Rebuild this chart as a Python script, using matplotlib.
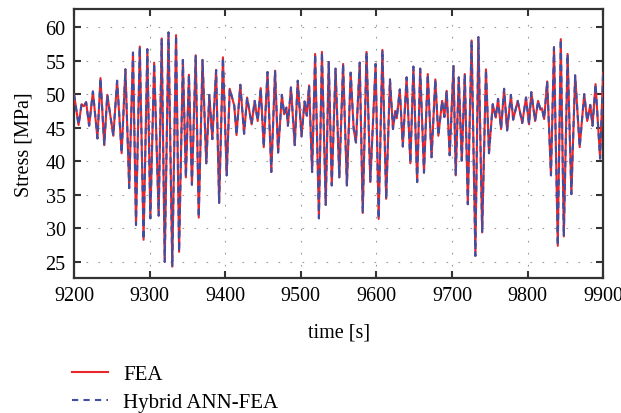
import matplotlib
matplotlib.use("Agg")
import matplotlib.pyplot as plt

# peaks and troughs
time_s = [9200, 9206, 9210, 9213, 9216, 9220, 9225, 9231, 9235, 9240,
          9244, 9252, 9257, 9263, 9268, 9273, 9278, 9282, 9287, 9292,
          9297, 9301, 9306, 9312, 9316, 9320, 9325, 9330, 9335, 9339,
          9344, 9348, 9352, 9356, 9361, 9365, 9370, 9375, 9379, 9383,
          9388, 9392, 9397, 9402, 9406, 9412, 9415, 9420, 9425, 9429,
          9435, 9439, 9443, 9447, 9451, 9456, 9461, 9466, 9470, 9475,
          9478, 9481, 9483, 9487, 9492, 9496, 9501, 9505, 9508, 9511,
          9515, 9519, 9524, 9528, 9533, 9537, 9541, 9546, 9551, 9556,
          9561, 9566, 9570, 9573, 9578, 9582, 9587, 9592, 9599, 9603,
          9608, 9613, 9618, 9622, 9625, 9627, 9631, 9635, 9640, 9645,
          9649, 9654, 9658, 9663, 9668, 9673, 9678, 9682, 9687, 9690,
          9693, 9697, 9702, 9705, 9709, 9713, 9717, 9721, 9726, 9731,
          9735, 9740, 9745, 9749, 9754, 9758, 9761, 9765, 9769, 9773,
          9778, 9781, 9787, 9793, 9798, 9802, 9805, 9810, 9814, 9817,
          9819, 9822, 9826, 9831, 9835, 9840, 9844, 9848, 9853, 9858,
          9863, 9869, 9875, 9879, 9883, 9886, 9890, 9896, 9900]

fea_stress = [50.0, 45.4, 48.5, 48.2, 48.8, 45.3, 50.4, 43.4, 52.4, 42.4,
              49.9, 43.8, 52.0, 41.2, 53.7, 36.0, 56.2, 30.5, 57.1, 28.3,
              56.7, 31.5, 54.7, 31.9, 58.3, 25.0, 59.2, 24.3, 58.8, 26.5,
              55.1, 37.6, 52.9, 36.5, 55.8, 31.6, 55.1, 39.7, 49.9, 43.3,
              53.6, 33.8, 55.5, 37.9, 50.8, 48.3, 43.9, 51.4, 44.1, 49.5,
              45.5, 49.0, 46.0, 50.9, 42.1, 53.3, 38.4, 53.5, 41.3, 49.9,
              47.0, 48.0, 45.3, 51.0, 42.4, 52.0, 43.7, 48.9, 46.8, 51.3,
              38.4, 56.0, 31.5, 56.3, 33.5, 54.8, 36.4, 53.8, 37.6, 54.5,
              36.4, 53.2, 44.8, 42.8, 54.7, 32.3, 56.3, 36.9, 54.5, 31.4,
              56.6, 34.4, 52.2, 44.8, 47.5, 46.4, 50.7, 42.2, 52.5, 39.7,
              54.1, 36.9, 53.8, 38.3, 53.0, 40.6, 52.2, 43.8, 49.0, 46.6,
              50.5, 40.9, 54.2, 37.9, 52.5, 40.1, 53.0, 33.6, 58.0, 25.9,
              58.5, 29.4, 53.7, 41.2, 48.5, 46.5, 49.3, 44.8, 50.8, 44.6,
              49.9, 46.2, 49.0, 45.7, 49.5, 45.5, 50.3, 46.0, 49.0, 47.7,
              47.9, 46.3, 51.9, 37.9, 57.0, 27.4, 58.2, 28.8, 56.0, 35.1,
              52.8, 42.1, 50.0, 46.0, 48.4, 45.3, 51.5, 40.4, 53.2]

# the hybrid curve sits on top of the FEA curve at this resolution
hybrid_stress = list(fea_stress)

x_ticks = [9200, 9300, 9400, 9500, 9600, 9700, 9800, 9900]
y_ticks = [25, 30, 35, 40, 45, 50, 55, 60]

plt.rcParams['font.family'] = ['Liberation Serif', 'DejaVu Serif']
plt.rcParams['font.size'] = 14

fig = plt.figure(figsize=(6.21, 4.14), dpi=100)
ax = fig.add_axes([0.1192, 0.326, 0.852, 0.650])

ax.plot(time_s, fea_stress, color='#e8262b', lw=1.5, label='FEA', zorder=3)
ax.plot(time_s, hybrid_stress, color='#3f4fa3', lw=1.5, dashes=(3, 2.5),
        label='Hybrid ANN-FEA', zorder=4)

ax.set_xlim(9200, 9900)
ax.set_ylim(22.6, 62.7)
ax.set_xticks(x_ticks)
ax.set_yticks(y_ticks)
ax.tick_params(direction='in', length=5, width=1.5, color='#333333',
               top=True, right=True, labelsize=14.5, pad=6)
ax.grid(True, color='#9a9a9a', lw=0.8, linestyle=(0, (1.5, 9.3)))
for s in ax.spines.values():
    s.set_linewidth(1.6)
    s.set_color('#333333')

ax.set_xlabel('time [s]', fontsize=14.5, labelpad=12)
ax.set_ylabel('Stress [MPa]', fontsize=14.5, labelpad=9)

fig.legend(loc='upper left', bbox_to_anchor=(0.116, 0.117), frameon=False,
           fontsize=15, handlelength=1.75, handletextpad=0.7,
           labelspacing=0.4, borderaxespad=0, borderpad=0)

fig.savefig('out.png', dpi=100)
